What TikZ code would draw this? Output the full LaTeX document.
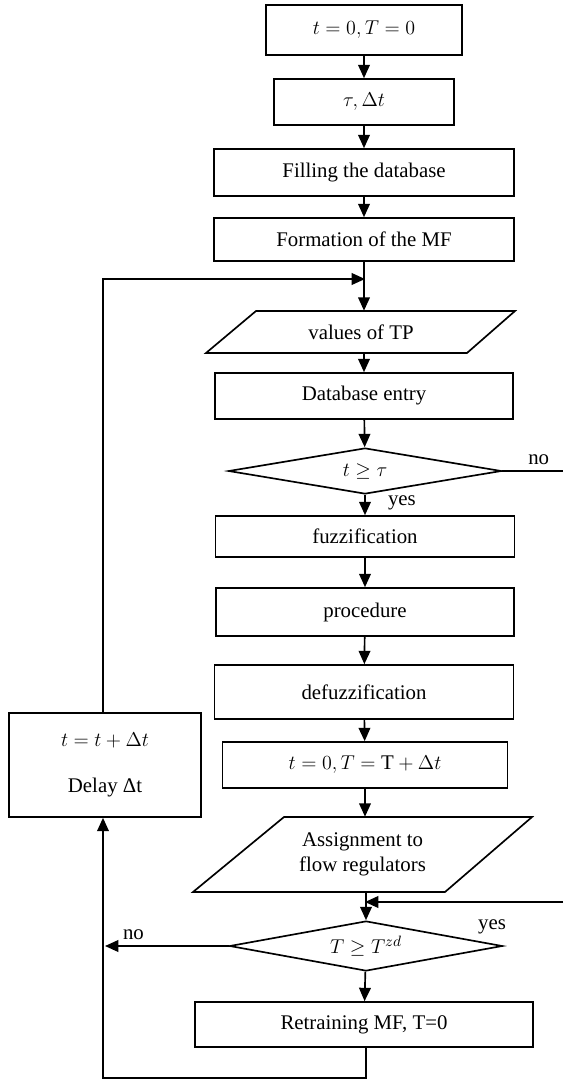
\documentclass[tikz,border=0pt]{standalone}
\usepackage{fontspec}
\setmainfont{Liberation Serif}
\usetikzlibrary{shapes.geometric,arrows.meta}

\begin{document}
\begin{tikzpicture}
[
    x=0.6pt, y=-0.6pt,
    every node/.style={font=\fontsize{12.5}{15}\selectfont},
    block/.style={draw, rectangle, line width=1pt, inner sep=2pt},
    io/.style={rectangle, inner sep=2pt, align=center},
    decision/.style={draw, diamond, aspect=6, line width=1pt, inner sep=0pt},
    flow/.style={line width=1pt, -{Triangle[width=7pt,length=8pt]}},
    wire/.style={line width=1pt},
]
\useasboundingbox (0,0) rectangle (564,1080);

% main column
\node[block, minimum width=117.6pt, minimum height=30pt] (init) at (364,30) {$t=0, T=0$};
\node[block, minimum width=108pt, minimum height=27.6pt] (param) at (364,102) {$\tau, \Delta t$};
\node[block, minimum width=180pt, minimum height=28.2pt] (fill) at (364,172.5) {Filling the database};
\node[block, minimum width=180pt, minimum height=25.8pt] (form) at (364,239.5) {Formation of the MF};
\node[io, minimum height=25.2pt] (tp) at (361,332) {values of TP};
\draw[wire] (256,311) -- (515,311) -- (467,353) -- (206,353) -- cycle;
\node[block, minimum width=178.8pt, minimum height=27.6pt] (entry) at (364,396) {Database entry};
\node[decision, minimum width=163.8pt, minimum height=27.6pt] (cond1) at (365,471) {$t \geq \tau$};
\node[block, minimum width=179.4pt, minimum height=24.6pt] (fuzz) at (365,536.5) {fuzzification};
\node[block, minimum width=178.8pt, minimum height=28.8pt] (proc) at (365,612) {procedure};
\node[block, minimum width=179.4pt, minimum height=32.4pt] (defuzz) at (364,692) {defuzzification};
\node[block, minimum width=171pt, minimum height=27.6pt] (reset) at (365,765) {$t=0, T=\mathrm{T}+\Delta t$};
\node[io, minimum height=45pt] (assign) at (362.5,854.5) {Assignment to\\flow regulators};
\draw[wire] (284,817) -- (532,817) -- (445,892) -- (193,892) -- cycle;
\node[decision, minimum width=163.8pt, minimum height=30pt] (cond2) at (366,946) {$T \geq T^{zd}$};
\node[block, minimum width=202.8pt, minimum height=27pt] (retrain) at (364,1024.5) {Retraining MF, T=0};

% loop box
\node[block, minimum width=115.2pt, minimum height=62.4pt, align=center] (delay) at (105,765)
    {$t=t+\Delta t$\\[13pt] Delay \symbol{"0394}t};

% joints and free ends
\coordinate (j1) at (365,279);
\coordinate (j2) at (365,902);
\coordinate (noend) at (563,471);
\coordinate (yesend) at (563,902);
\coordinate (back) at (103,279);
\coordinate (low) at (103,1078);

% connectors
\draw[flow] (init) -- (param);
\draw[flow] (param) -- (fill);
\draw[flow] (fill) -- (form);
\draw[flow] (form) -- (tp.north -| form);
\draw[flow] (delay.north -| back) -- (back) -- (j1);
\draw[flow] (tp.south -| entry) -- (entry);
\draw[flow] (entry) -- (cond1);
\draw[flow] (cond1) -- node[right=10pt, pos=0.4] {yes} (fuzz);
\draw[wire] (cond1.east) -- node[above, pos=0.6] {no} (noend);
\draw[flow] (fuzz) -- (proc);
\draw[flow] (proc) -- (defuzz);
\draw[flow] (defuzz) -- (reset);
\draw[flow] (reset) -- (assign.north -| reset);
\draw[flow] (assign.south -| cond2) -- (cond2);
\draw[flow] (yesend) -- (j2);
\node (yes2) at (492,927) {yes};
\draw[flow] (cond2.west) -- node[above, pos=0.77] {no} (105,946);
\draw[flow] (cond2) -- (retrain);
\draw[flow] (retrain.south -| cond2) -- (low -| cond2) -- (low) -- (delay.south -| low);
\end{tikzpicture}
\end{document}
